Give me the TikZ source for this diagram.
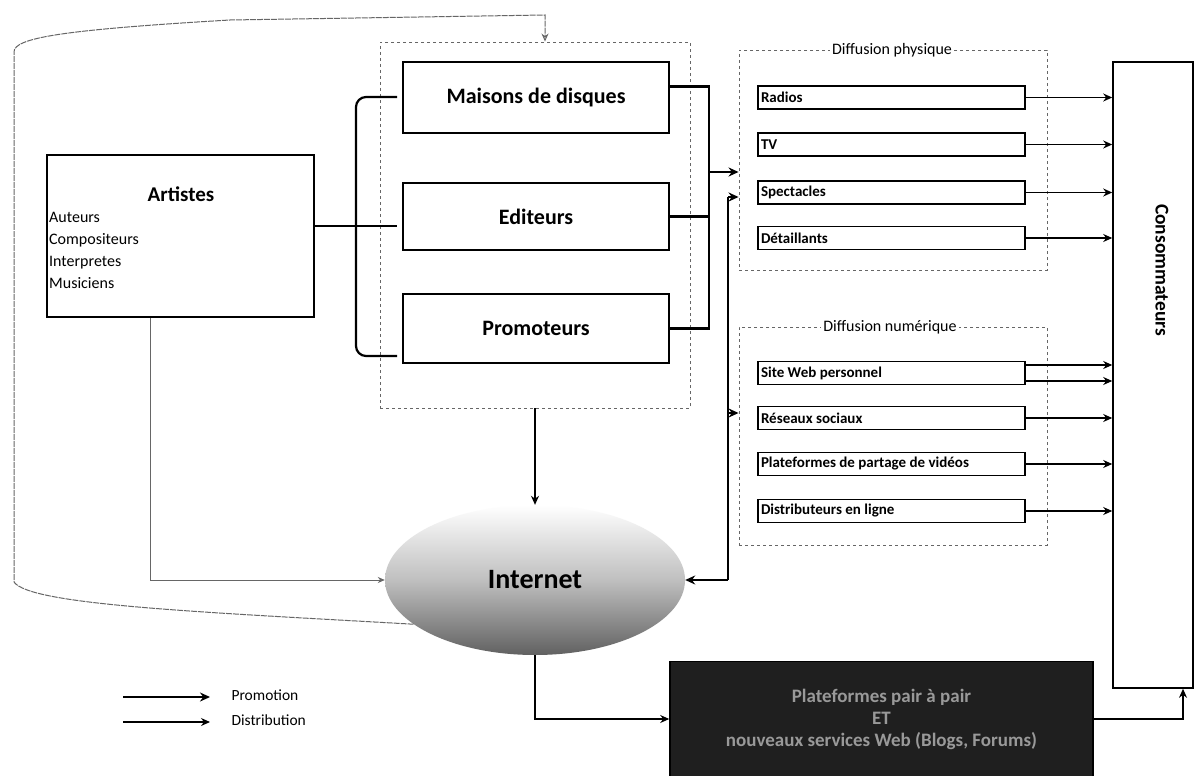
\documentclass[tikz,border=0pt]{standalone}
\usepackage{fontspec}
\setmainfont{Carlito}
\usetikzlibrary{shapes.geometric,arrows.meta,calc}
\begin{document}
\begin{tikzpicture}[x=1pt,y=-1pt,
  box/.style={draw,line width=1.6pt,inner sep=0pt},
  bigbox/.style={box,font=\fontsize{22}{24}\selectfont\bfseries},
  item/.style={draw,line width=1.6pt,minimum width=267pt,minimum height=23pt,text width=261pt,inner xsep=3pt,inner ysep=0pt,align=flush left,font=\fontsize{15}{17}\selectfont\bfseries},
  group/.style={draw=black!60,line width=0.9pt,dash pattern=on 3pt off 3pt,inner sep=0pt},
  gtitle/.style={fill=white,inner sep=2pt,font=\fontsize{16}{18}\selectfont},
  arr/.style={-{Stealth[length=10pt,width=9pt]},line width=2pt},
  arrt/.style={-{Stealth[length=9pt,width=8pt]},line width=1.2pt},
  thk/.style={line width=2.2pt},
  thin/.style={line width=1pt,black!60},
]
\fill[white] (0,0) rectangle (1194,776);
\useasboundingbox (0,0) rectangle (1194,776);

% Artistes
\node[box,minimum width=267pt,minimum height=162pt] (art) at (180.5,236) {};
\node[font=\fontsize{21}{23}\selectfont\bfseries] (arttitle) at (181,194) {Artistes};
\node[anchor=north west,align=flush left,inner sep=0pt,font=\fontsize{16}{22}\selectfont] (artlist) at (49,212) {Auteurs\\Compositeurs\\Interpretes\\Musiciens};

% group of intermediaries
\node[group,minimum width=310pt,minimum height=366pt] (grp) at (535,225) {};
\node[bigbox,minimum width=266pt,minimum height=71pt] (mdd) at (536,97.5) {Maisons de disques};
\node[bigbox,minimum width=266pt,minimum height=67pt] (edi) at (536,216.5) {Editeurs};
\node[bigbox,minimum width=266pt,minimum height=69pt] (pro) at (536,328.5) {Promoteurs};

% Diffusion physique
\node[group,minimum width=308pt,minimum height=220pt] (phys) at (893,160) {};
\node[gtitle] (physt) at (892,50) {Diffusion physique};
\node[item] (radios) at (891.5,97.5) {Radios};
\node[item] (tv) at (891.5,144.5) {TV};
\node[item] (spec) at (891.5,192.5) {Spectacles};
\node[item] (deta) at (891.5,238) {Détaillants};

% Diffusion numerique
\node[group,minimum width=308pt,minimum height=218pt] (num) at (893,436) {};
\node[gtitle] (numt) at (890,327) {Diffusion numérique};
\node[item] (site) at (891.5,373) {Site Web personnel};
\node[item] (reso) at (891.5,418) {Réseaux sociaux};
\node[item] (plat) at (891.5,464) {Plateformes de partage de vidéos};
\node[item] (dist) at (891.5,511) {Distributeurs en ligne};

% Consommateurs
\node[box,minimum width=80pt,minimum height=626pt] (cons) at (1153,375) {};
\node[rotate=-90,font=\fontsize{19.5}{22}\selectfont\bfseries] (const) at (1162,270) {Consommateurs};

% Internet
\node[ellipse,minimum width=300pt,minimum height=150pt,inner sep=0pt,top color=white,bottom color=black!62,middle color=black!25,font=\fontsize{28}{30}\selectfont\bfseries] (inet) at (535,580) {Internet};

% black box
\node[box,fill=black!88,minimum width=423pt,minimum height=115pt,align=center,text=black!40,font=\fontsize{19}{22}\selectfont\bfseries] (p2p) at (881.5,719) {Plateformes pair à pair\\ET\\nouveaux services Web (Blogs, Forums)};

% brace from Artistes
\coordinate (bt) at (397,97);
\coordinate (bm) at (397,226);
\coordinate (bb) at (397,356);
\draw[thk] (art.east |- bm) -- (bm);
\draw[thk,rounded corners=10pt] (bt) -- (356,97) -- (356,356) -- (bb);

% merge right of group
\coordinate (rx) at (709,172);
\draw[thk] ($(mdd.east)+(0,-11)$) coordinate (m1) -| (rx |- pro.east) -- (pro.east);
\draw[thk] (edi.east) -- (edi.east -| rx);
\draw[arr] (rx) -- (rx -| phys.west);

% Internet <-> diffusion
\coordinate (vx) at (728,197);
\draw[thk] (vx) -- (vx |- inet.east);
\draw[arr] (vx) -- (vx -| phys.west);
\coordinate (vn) at (728,413);
\draw[arr] (vn) -- (vn -| num.west);
\draw[arr] (vx |- inet.east) -- (inet.east);

% group -> Internet
\draw[arrt] (grp.south) -- (inet.north);

% Artistes -> Internet
\coordinate (av) at (150,580);
\draw[thin,-{Stealth[length=7pt,width=6pt]}] (art.south -| av) -- (av) -- (inet.west);

% loop back to top
\coordinate (tl) at (545,15);
\draw[thin,dash pattern=on 6pt off 1pt,-{Stealth[length=8pt,width=7pt,open]}] (inet.200) .. controls (200,612) and (30,605) .. (14,582) -- (14,52) .. controls (14,38) and (60,30) .. (230,20) -- (tl) -- (tl |- grp.north);

% diffusion -> consommateurs
\foreach \n in {radios,tv,spec,deta,reso,plat,dist}
  \draw[arrt] (\n.east) -- (\n.east -| cons.west);
\draw[arrt] ($(site.east)+(0,-8)$) coordinate (s1) -- (s1 -| cons.west);
\draw[arrt] ($(site.east)+(0,8)$) coordinate (s2) -- (s2 -| cons.west);

% Internet -> p2p -> consommateurs
\draw[arrt] (inet.south) |- (p2p.west);
\coordinate (cx) at (1183,0);
\draw[arrt] (p2p.east) -| (cx |- cons.south);

% legend
\coordinate (l1a) at (123,697); \coordinate (l1b) at (210,697);
\coordinate (l2a) at (123,722); \coordinate (l2b) at (210,722);
\draw[arr] (l1a) -- (l1b);
\draw[arrt] (l2a) -- (l2b);
\node[anchor=west,font=\fontsize{15.5}{17}\selectfont] (lp) at (228,695) {Promotion};
\node[anchor=west,font=\fontsize{15.5}{17}\selectfont] (ld) at (228,720) {Distribution};
\end{tikzpicture}
\end{document}
